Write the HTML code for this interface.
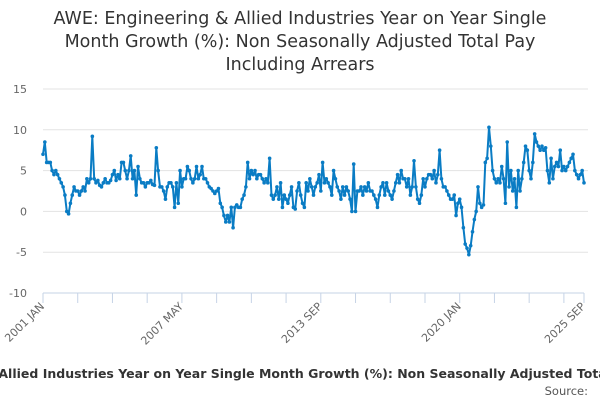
<!DOCTYPE html>
<html><head><meta charset="utf-8">
<style>
html,body{margin:0;padding:0;background:#fff;}
body{width:600px;height:400px;overflow:hidden;font-family:"DejaVu Sans","Liberation Sans",sans-serif;}
</style></head>
<body>
<svg id="chart" width="600" height="400" xmlns="http://www.w3.org/2000/svg" font-family="DejaVu Sans, Liberation Sans, sans-serif">
<g fill="#333" font-size="17.5" text-anchor="middle">
<text x="300" y="24">AWE: Engineering &amp; Allied Industries Year on Year Single</text>
<text x="300" y="47">Month Growth (%): Non Seasonally Adjusted Total Pay</text>
<text x="300" y="70">Including Arrears</text>
</g>
<g id="grid"></g>
<g id="yaxis"></g>
<g id="xaxis"></g>
<g id="series"></g>
<text x="310" y="378" text-anchor="middle" font-size="12.5" font-weight="bold" fill="#333">AWE: Engineering &amp; Allied Industries Year on Year Single Month Growth (%): Non Seasonally Adjusted Total Pay Including Arrears</text>
<text x="588" y="395" text-anchor="end" font-size="11.5" fill="#555">Source:</text>
</svg>
<script>
const startYear = 2001;
const yTicks = [15, 10, 5, 0, -5, -10];
const xLabels = ["2001 JAN", "2007 MAY", "2013 SEP", "2020 JAN", "2025 SEP"];
const xLabelMonths = [0, 76, 152, 228, 296];
const values = [
7,8.5,6,6,6,5,4.5,5,4.5,4,3.5,3,
2,0,-0.3,1,2,3,2.5,2.5,2,2.5,3,2.5,
4,3.5,4,9.2,4,3.5,3.8,3.2,3,3.5,4,3.5,
3.5,3.8,4.5,5,3.8,4.5,4,6,6,5,4,5,
6.8,4,5,2,5.5,4,3.5,3.5,3,3.5,3.5,3.8,
3.3,3.2,7.8,5,3,3,2.5,1.5,3,3.5,3.5,3,
0.5,3.5,1,5,3,4,4,5.5,5,4,3.5,4,
5.5,4,4.5,5.5,4,4,3.5,3,2.8,2.5,2.2,2.5,
2.8,1,0.5,-0.5,-1.3,-0.5,-1.3,0.5,-2,0.5,0.8,0.5,
0.5,1.5,2,3,6,4,5,4.5,5,4,4.5,4.5,
4,3.5,4,3.5,6.5,2,1.5,2,3,1.5,3.5,0.5,
2,1.5,1,2,3,0.5,0.3,2.5,3.5,2,1,0.5,
3.5,2.5,4,3,2,3,3.5,4.5,2.5,6,3.5,4,
3.5,3,2,5,4,3,2.5,1.5,3,2,3,2.5,
1.5,0,5.8,0,2.5,2.5,3,2,3,2.5,3.5,2.5,
2.5,2,1.5,0.5,2,3,3.5,2,3.5,2.5,2,1.5,
2.5,3.5,4.5,3.5,5,4,4,3,4,2,3,6.2,
3,1.5,1,2,4,3,4,4.5,4.5,4,5,3.5,
4.5,7.5,4,3,3,2.5,2,1.5,1.5,2,-0.5,1,
1.5,0.5,-2,-4,-4.5,-5.3,-4.2,-2.5,-1,0,3,1,
0.5,0.8,6,6.5,10.3,8,5,4,3.5,4,3.5,5.5,
4,1,8.5,3,5,2.5,4,0.5,5,2.5,4,6,
8,7.5,5,4,6,9.5,8.5,8,7.5,8,7.5,7.8,
5,3.5,6.5,4,5.5,6,5.5,7.5,5,5.5,5,5.5,
6,6.5,7,5,4.5,4,4.5,5,3.5
];
const NS="http://www.w3.org/2000/svg";
const X0=43, X1=584, Y15=89, Ym10=293;
const n=values.length;
function xs(i){return X0+(X1-X0)*i/(n-1);}
function ys(v){return Ym10-(v+10)*(Ym10-Y15)/25;}
function mk(tag,attrs,parent){const e=document.createElementNS(NS,tag);for(const k in attrs)e.setAttribute(k,attrs[k]);parent.appendChild(e);return e;}
const grid=document.getElementById('grid'), yax=document.getElementById('yaxis'), xax=document.getElementById('xaxis'), ser=document.getElementById('series');
yTicks.forEach(t=>{
  if(t!==-10){const l=mk('line',{x1:X0,x2:X1+4,y1:ys(t),y2:ys(t),stroke:'#e3e3e3','stroke-width':1},grid);
  
  }
  const tx=mk('text',{x:27,y:ys(t)+4,'text-anchor':'end','font-size':11,fill:'#666'},yax);
  tx.textContent=t;
  
  
});
mk('line',{x1:X0,x2:X1,y1:Ym10,y2:Ym10,stroke:'#c6d3e6','stroke-width':1},xax);
for(let m=0;m<n;m+=19){const t=mk('line',{x1:xs(m),x2:xs(m),y1:Ym10,y2:Ym10+10,stroke:'#c6d3e6'},xax);

}
mk('line',{x1:xs(n-1),x2:xs(n-1),y1:Ym10,y2:Ym10+10,stroke:'#c6d3e6'},xax);
xLabels.forEach((lab,i)=>{
  const x=xs(xLabelMonths[i]);
  const tx=mk('text',{x:x+2,y:Ym10+14,'text-anchor':'end','font-size':11,fill:'#666',transform:`rotate(-45 ${x+2} ${Ym10+14})`},xax);
  tx.textContent=lab;
  
  
});
const pts=values.map((v,i)=>xs(i).toFixed(1)+','+ys(v).toFixed(1)).join(' ');
const pl=mk('polyline',{points:pts,fill:'none',stroke:'#0a7cc4','stroke-width':2,'stroke-linejoin':'round'},ser);


values.forEach((v,i)=>{const c=mk('circle',{cx:xs(i),cy:ys(v),r:1.8,fill:'#0a7cc4'},ser);

});
</script>
</body></html>
